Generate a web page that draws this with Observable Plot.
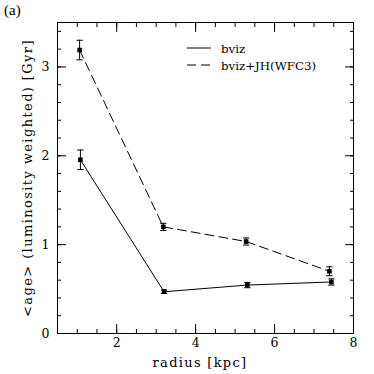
<!DOCTYPE html>
<html>
<head>
<meta charset="utf-8">
<script src="https://cdn.jsdelivr.net/npm/d3@7"></script>
<script src="https://cdn.jsdelivr.net/npm/@observablehq/plot@0.6"></script>
<style>
  html, body { margin: 0; padding: 0; background: #fff; }
  #wrap { position: relative; width: 374px; height: 374px; }
  #panel { position: absolute; left: 4px; top: 2px; font: 15px "Liberation Serif", serif; }
</style>
</head>
<body>
<div id="wrap"><div id="panel">(a)</div></div>
<script>
// Data
const radiusBviz = [1.08, 3.2, 5.31, 7.44];
const ageBviz    = [1.955, 0.47, 0.545, 0.58];
const errBviz    = [0.11, 0.02, 0.03, 0.035];

const radiusJH = [1.06, 3.18, 5.28, 7.39];
const ageJH    = [3.19, 1.20, 1.035, 0.70];
const errJH    = [0.11, 0.04, 0.04, 0.05];

const seriesNames = ["bviz", "bviz+JH(WFC3)"];
const xMajorTicks = [2, 4, 6, 8];
const yMajorTicks = [0, 1, 2, 3];

const build = (xs, ys, es, name) => xs.map((x, i) => ({x, y: ys[i], lo: ys[i] - es[i], hi: ys[i] + es[i], name}));
const bviz = build(radiusBviz, ageBviz, errBviz, seriesNames[0]);
const jh = build(radiusJH, ageJH, errJH, seriesNames[1]);
const all = bviz.concat(jh);
const cap = 0.08;

const xMinor = d3.range(0.5, 8.001, 0.5);
const yMinor = d3.range(0, 3.501, 0.2).map(v => +v.toFixed(1));

const font = '"DejaVu Serif", serif';

const chart = Plot.plot({
  width: 374,
  height: 374,
  marginLeft: 57,
  marginRight: 21,
  marginTop: 22,
  marginBottom: 41,
  style: {fontFamily: font, fontSize: "12px", color: "#000", background: "#fff"},
  x: {domain: [0.5, 8]},
  y: {domain: [0, 3.5]},
  marks: [
    Plot.frame({stroke: "#000"}),
    Plot.axisX(xMinor, {anchor: "bottom", tickSize: -4, text: null, label: null}),
    Plot.axisX(xMinor, {anchor: "top", tickSize: -4, text: null, label: null}),
    Plot.axisX(xMajorTicks, {anchor: "bottom", tickSize: -9, tickPadding: 14, label: null, tickFormat: "d", fontSize: 12.5}),
    Plot.axisX(xMajorTicks, {anchor: "top", tickSize: -9, text: null, label: null}),
    Plot.axisY(yMinor, {anchor: "left", tickSize: -4, text: null, label: null}),
    Plot.axisY(yMinor, {anchor: "right", tickSize: -4, text: null, label: null}),
    Plot.axisY(yMajorTicks, {anchor: "left", tickSize: -9, tickPadding: 17, label: null, tickFormat: "d", fontSize: 12.5}),
    Plot.axisY(yMajorTicks, {anchor: "right", tickSize: -9, text: null, label: null}),
    Plot.line(bviz, {x: "x", y: "y", stroke: "#000", strokeWidth: 1}),
    Plot.line(jh, {x: "x", y: "y", stroke: "#000", strokeWidth: 1, strokeDasharray: "9,5"}),
    Plot.ruleX(all, {x: "x", y1: "lo", y2: "hi", stroke: "#000", strokeWidth: 1}),
    Plot.link(all, {x1: d => d.x - cap, x2: d => d.x + cap, y1: "hi", y2: "hi", stroke: "#000", strokeWidth: 1}),
    Plot.link(all, {x1: d => d.x - cap, x2: d => d.x + cap, y1: "lo", y2: "lo", stroke: "#000", strokeWidth: 1}),
    Plot.dot(all, {x: "x", y: "y", symbol: "square", r: 2.6, fill: "#000", stroke: null})
  ]
});

const svg = d3.select(chart);
// Axis titles
svg.append("text")
  .attr("x", 200).attr("y", 367)
  .attr("text-anchor", "middle")
  .style("font-family", font).style("font-size", "13px").style("letter-spacing", "1.3px")
  .text("radius [kpc]");
svg.append("text")
  .attr("transform", "translate(32,178) rotate(-90)")
  .attr("text-anchor", "middle")
  .style("font-family", font).style("font-size", "13px").style("letter-spacing", "1.4px")
  .text("<age> (luminosity weighted) [Gyr]");

// Legend
const lg = svg.append("g").attr("text-anchor", "start")
  .style("font-family", font).style("font-size", "11.8px");
const rows = [{name: seriesNames[0], dash: null}, {name: seriesNames[1], dash: "9,5"}];
rows.forEach((r, i) => {
  const yy = 48 + i * 17;
  lg.append("line").attr("x1", 187).attr("x2", 211).attr("y1", yy).attr("y2", yy)
    .attr("stroke", "#000").attr("stroke-width", 1).attr("stroke-dasharray", r.dash);
  lg.append("text").attr("x", 221).attr("y", yy + 4.5).attr("text-anchor", "start").text(r.name);
});

document.getElementById("wrap").appendChild(chart);
chart.style.position = "absolute";
chart.style.left = "0px";
chart.style.top = "0px";
document.getElementById("panel").style.zIndex = 2;
</script>
</body>
</html>
